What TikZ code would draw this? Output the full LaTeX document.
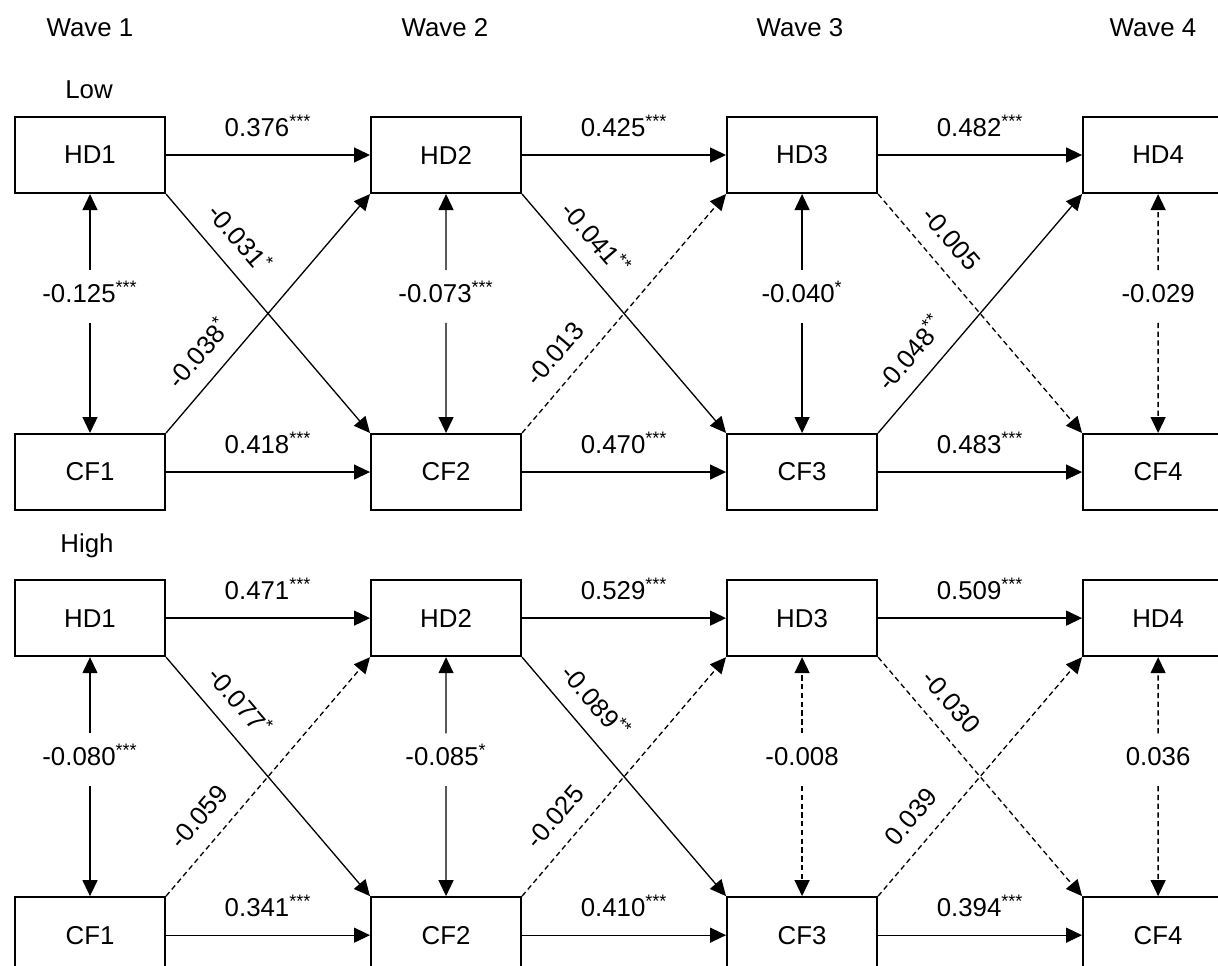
\documentclass[tikz,border=0pt]{standalone}
\usepackage{fontspec}
\setmainfont{Liberation Sans}
\usepackage{tikz}
\usetikzlibrary{positioning,arrows.meta,calc}
\newcommand{\sig}[1]{\textsuperscript{#1}}

\begin{document}
\begin{tikzpicture}[x=0.02cm, y=0.02cm, font=\fontsize{14.7}{17}\selectfont, node distance=4.08cm]
  \tikzstyle{box}=[draw,line width=1.2pt,minimum width=3cm,minimum height=1.52cm,inner sep=0pt]
  \tikzstyle{arr}=[line width=0.75pt,-{Triangle[length=0.32cm,width=0.3cm]}]
  \tikzstyle{ns}=[dash pattern=on 3pt off 2pt]
  \tikzstyle{lab}=[inner sep=0pt,text height=0.72em,text depth=0pt]
  \tikzstyle{hlab}=[lab,above=0.36cm]
  \tikzstyle{dlab}=[lab,sloped,pos=0.26,above=0.34cm]
  \tikzstyle{vlab}=[lab,minimum height=1.04cm,yshift=0.34cm]
  \useasboundingbox (0,0) rectangle (1218,965);
  \clip (0,0) rectangle (1218,965);

  \node (w1) at (90,937) {Wave 1};
  \node (w2) at (445,937) {Wave 2};
  \node (w3) at (800,937) {Wave 3};
  \node (w4) at (1153,937) {Wave 4};

  \node (low) at (89,875) {Low};
  \node[box] (lhd1) at (90,810) {HD1};
  \node[box] (lhd2) [right=of lhd1] {HD2};
  \node[box] (lhd3) [right=of lhd2] {HD3};
  \node[box] (lhd4) [right=of lhd3] {HD4};
  \node[box] (lcf1) [below=4.78cm of lhd1] {CF1};
  \node[box] (lcf2) [right=of lcf1] {CF2};
  \node[box] (lcf3) [right=of lcf2] {CF3};
  \node[box] (lcf4) [right=of lcf3] {CF4};

  \node (high) at (87,419) {High};
  \node[box] (hhd1) [below=1.36cm of lcf1] {HD1};
  \node[box] (hhd2) [right=of hhd1] {HD2};
  \node[box] (hhd3) [right=of hhd2] {HD3};
  \node[box] (hhd4) [right=of hhd3] {HD4};
  \node[box] (hcf1) [below=4.78cm of hhd1] {CF1};
  \node[box] (hcf2) [right=of hcf1] {CF2};
  \node[box] (hcf3) [right=of hcf2] {CF3};
  \node[box] (hcf4) [right=of hcf3] {CF4};

  \draw[arr] (lhd1) -- node[hlab] {0.376\sig{***}} (lhd2);
  \draw[arr] (lhd2) -- node[hlab] {0.425\sig{***}} (lhd3);
  \draw[arr] (lhd3) -- node[hlab] {0.482\sig{***}} (lhd4);
  \draw[arr] (lcf1) -- node[hlab] {0.418\sig{***}} (lcf2);
  \draw[arr] (lcf2) -- node[hlab] {0.470\sig{***}} (lcf3);
  \draw[arr] (lcf3) -- node[hlab] {0.483\sig{***}} (lcf4);
  \draw[arr] (lhd1.south east) -- node[dlab] {-0.031\sig{*}} (lcf2.north west);
  \draw[arr] (lcf1.north east) -- node[dlab] {-0.038\sig{*}} (lhd2.south west);
  \draw[arr] (lhd2.south east) -- node[dlab] {-0.041\sig{**}} (lcf3.north west);
  \draw[arr,ns] (lcf2.north east) -- node[dlab] {-0.013} (lhd3.south west);
  \draw[arr,ns] (lhd3.south east) -- node[dlab] {-0.005} (lcf4.north west);
  \draw[arr] (lcf3.north east) -- node[dlab] {-0.048\sig{**}} (lhd4.south west);
  \node[vlab] (lc1) at ($(lhd1)!0.5!(lcf1)$) {-0.125\sig{***}};
  \node[vlab] (lc2) at ($(lhd2)!0.5!(lcf2)$) {-0.073\sig{***}};
  \node[vlab] (lc3) at ($(lhd3)!0.5!(lcf3)$) {-0.040\sig{*}};
  \node[vlab] (lc4) at ($(lhd4)!0.5!(lcf4)$) {-0.029};
  \draw[arr] (lc1) -- (lhd1);
  \draw[arr] (lc1) -- (lcf1);
  \draw[arr] (lc2) -- (lhd2);
  \draw[arr] (lc2) -- (lcf2);
  \draw[arr] (lc3) -- (lhd3);
  \draw[arr] (lc3) -- (lcf3);
  \draw[arr,ns] (lc4) -- (lhd4);
  \draw[arr,ns] (lc4) -- (lcf4);

  \draw[arr] (hhd1) -- node[hlab] {0.471\sig{***}} (hhd2);
  \draw[arr] (hhd2) -- node[hlab] {0.529\sig{***}} (hhd3);
  \draw[arr] (hhd3) -- node[hlab] {0.509\sig{***}} (hhd4);
  \draw[arr] (hcf1) -- node[hlab] {0.341\sig{***}} (hcf2);
  \draw[arr] (hcf2) -- node[hlab] {0.410\sig{***}} (hcf3);
  \draw[arr] (hcf3) -- node[hlab] {0.394\sig{***}} (hcf4);
  \draw[arr] (hhd1.south east) -- node[dlab] {-0.077\sig{*}} (hcf2.north west);
  \draw[arr,ns] (hcf1.north east) -- node[dlab] {-0.059} (hhd2.south west);
  \draw[arr] (hhd2.south east) -- node[dlab] {-0.089\sig{**}} (hcf3.north west);
  \draw[arr,ns] (hcf2.north east) -- node[dlab] {-0.025} (hhd3.south west);
  \draw[arr,ns] (hhd3.south east) -- node[dlab] {-0.030} (hcf4.north west);
  \draw[arr,ns] (hcf3.north east) -- node[dlab] {0.039} (hhd4.south west);
  \node[vlab] (hc1) at ($(hhd1)!0.5!(hcf1)$) {-0.080\sig{***}};
  \node[vlab] (hc2) at ($(hhd2)!0.5!(hcf2)$) {-0.085\sig{*}};
  \node[vlab] (hc3) at ($(hhd3)!0.5!(hcf3)$) {-0.008};
  \node[vlab] (hc4) at ($(hhd4)!0.5!(hcf4)$) {0.036};
  \draw[arr] (hc1) -- (hhd1);
  \draw[arr] (hc1) -- (hcf1);
  \draw[arr] (hc2) -- (hhd2);
  \draw[arr] (hc2) -- (hcf2);
  \draw[arr,ns] (hc3) -- (hhd3);
  \draw[arr,ns] (hc3) -- (hcf3);
  \draw[arr,ns] (hc4) -- (hhd4);
  \draw[arr,ns] (hc4) -- (hcf4);
\end{tikzpicture}
\end{document}
